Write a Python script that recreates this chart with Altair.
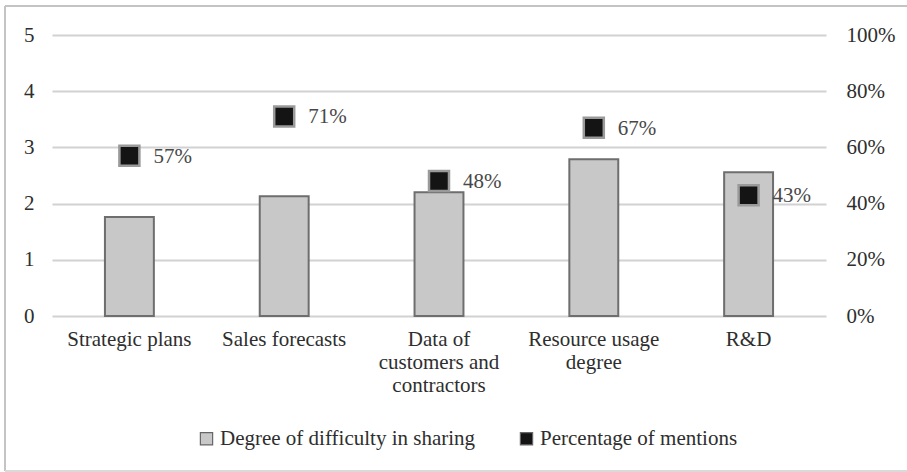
import altair as alt
import pandas as pd

# Categories and the two series
categories = [
    "Strategic plans",
    "Sales forecasts",
    "Data of customers and contractors",
    "Resource usage degree",
    "R&D",
]
category_lines = [
    ["Strategic plans"],
    ["Sales forecasts"],
    ["Data of", "customers and", "contractors"],
    ["Resource usage", "degree"],
    ["R&D"],
]
difficulty = [1.76, 2.13, 2.20, 2.79, 2.56]
mentions = [0.57, 0.71, 0.48, 0.67, 0.43]

series_names = ["Degree of difficulty in sharing", "Percentage of mentions"]

df = pd.DataFrame({"category": categories, "difficulty": difficulty, "mentions": mentions})

FONT = "Liberation Serif"
TEXT = "#2e2e2e"
FS = 21

# Multi-line axis labels
label_expr = ""
for cat, lines in zip(categories, category_lines):
    arr = "[" + ",".join("'" + l + "'" for l in lines) + "]"
    label_expr += f"datum.value == '{cat}' ? {arr} : "
label_expr += "datum.label"

x_enc = alt.X(
    "category:N",
    sort=categories,
    title=None,
    scale=alt.Scale(paddingInner=0.684, paddingOuter=0.342),
    axis=alt.Axis(
        labelAngle=0, labelExpr=label_expr, labelLineHeight=23, labelPadding=12,
        ticks=False, domain=False, labelFont=FONT, labelFontSize=FS, labelColor=TEXT,
        labelBaseline="top", labelLimit=300,
    ),
)

color_scale = alt.Scale(domain=series_names, range=["#c8c8c8", "#141414"])
legend = alt.Legend(
    title=None, orient="none", legendX=144, legendY=393, direction="horizontal",
    symbolType="square", symbolSize=150, symbolStrokeColor="#666666", symbolStrokeWidth=1.2,
    labelFont=FONT, labelFontSize=FS, labelColor=TEXT, columnPadding=40, labelOffset=3,
    labelLimit=400, padding=0,
)

base = alt.Chart(df)

bars = base.mark_bar(stroke="#6e6e6e", strokeWidth=2).transform_calculate(
    series=f"'{series_names[0]}'"
).encode(
    x=x_enc,
    y=alt.Y(
        "difficulty:Q", title=None,
        scale=alt.Scale(domain=[0, 5]),
        axis=alt.Axis(
            values=[0, 1, 2, 3, 4, 5], orient="left", grid=True, gridColor="#d2d2d2", gridWidth=2,
            ticks=False, domain=False, labelFont=FONT, labelFontSize=FS, labelColor=TEXT,
            labelPadding=18,
        ),
    ),
    color=alt.Color("series:N", scale=color_scale, legend=legend),
)

points = base.mark_point(
    shape="square", filled=True, size=400, stroke="#9a9a9a", strokeWidth=2.5, opacity=1
).transform_calculate(
    series=f"'{series_names[1]}'"
).encode(
    x=x_enc,
    y=alt.Y(
        "mentions:Q", title=None,
        scale=alt.Scale(domain=[0, 1]),
        axis=alt.Axis(
            values=[0, 0.2, 0.4, 0.6, 0.8, 1.0], format=".0%", orient="right", grid=False,
            ticks=False, domain=False, labelFont=FONT, labelFontSize=FS, labelColor=TEXT,
            labelPadding=20,
        ),
    ),
    color=alt.Color("series:N", scale=color_scale, legend=legend),
)

labels = base.mark_text(
    align="left", baseline="middle", dx=24, dy=1, font=FONT, fontSize=FS, color="#484848"
).encode(
    x=x_enc,
    y=alt.Y("mentions:Q", scale=alt.Scale(domain=[0, 1]), axis=None),
    text=alt.Text("mentions:Q", format=".0%"),
)

# Outer frame: top, left and bottom edges
one = pd.DataFrame({"f": [0]})
frame_style = dict(color="#c4c4c4", strokeWidth=2)
frame_top = alt.Chart(one).mark_rule(**frame_style).encode(
    x=alt.value(-47), x2=alt.value(855), y=alt.value(-29)
)
frame_left = alt.Chart(one).mark_rule(**frame_style).encode(
    x=alt.value(-47), y=alt.value(-29), y2=alt.value(436)
)
frame_bottom = alt.Chart(one).mark_rule(color="#dadada", strokeWidth=2).encode(
    x=alt.value(-47), x2=alt.value(855), y=alt.value(436)
)

chart = (
    alt.layer(frame_top, frame_left, frame_bottom, bars, points, labels)
    .resolve_scale(y="independent")
    .properties(
        width=774,
        height=281,
        autosize=alt.AutoSizeParams(type="none"),
        padding={"left": 52, "top": 35, "right": 81, "bottom": 156},
        background="white",
    )
    .configure(font=FONT)
    .configure_view(stroke=None)
)

chart.save("out.html", embed_options={"renderer": "svg", "actions": False})
